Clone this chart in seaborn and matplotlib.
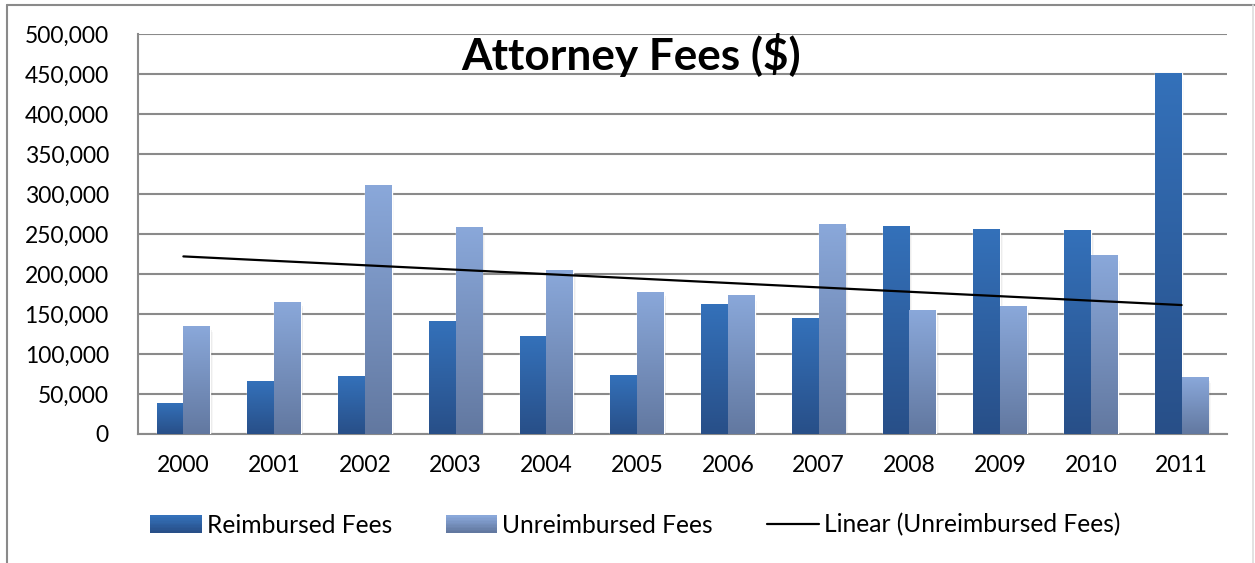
import numpy as np
import pandas as pd
import seaborn as sns
import matplotlib
matplotlib.use("Agg")
from matplotlib import pyplot as plt
from matplotlib.colors import LinearSegmentedColormap
from matplotlib.lines import Line2D
from matplotlib.patches import Rectangle
from matplotlib.legend_handler import HandlerBase
from matplotlib.ticker import FuncFormatter, MultipleLocator

years = ['2000', '2001', '2002', '2003', '2004', '2005',
         '2006', '2007', '2008', '2009', '2010', '2011']
reimbursed = [39000, 66000, 72500, 141000, 122500, 73500,
              162500, 145000, 260000, 256500, 255000, 451000]
unreimbursed = [135000, 165000, 311000, 259000, 205000, 177500,
                174000, 262500, 155000, 160000, 224000, 71000]
series_names = ['Reimbursed Fees', 'Unreimbursed Fees']

# gradient colours (bottom, top) for each series
grad_cols = {'Reimbursed Fees': ('#284f88', '#3471ba'),
             'Unreimbursed Fees': ('#6278a0', '#8aa8da')}

df = pd.DataFrame({
    'year': years * 2,
    'fees': reimbursed + unreimbursed,
    'series': [series_names[0]] * len(years) + [series_names[1]] * len(years),
})

sns.set_style('white')
plt.rcParams['font.family'] = ['Lato', 'DejaVu Sans']
plt.rcParams['text.color'] = 'black'
plt.rcParams['xtick.labelcolor'] = 'black'
plt.rcParams['ytick.labelcolor'] = 'black'

fig = plt.figure(figsize=(12.55, 5.63), dpi=100)
ax = fig.add_axes([138 / 1255, 1 - 434 / 563, (1227 - 138) / 1255, 400 / 563])

sns.barplot(data=df, x='year', y='fees', hue='series', ax=ax,
            palette=[grad_cols[s][1] for s in series_names],
            width=0.587, saturation=1, legend=False, zorder=3)

# paint each bar with a vertical gradient
for cont, name in zip(ax.containers, series_names):
    cmap = LinearSegmentedColormap.from_list(name, list(grad_cols[name]))
    for bar in cont:
        x0, w, h = bar.get_x(), bar.get_width(), bar.get_height()
        # soft shadow
        for k, a in enumerate([0.10, 0.06, 0.03]):
            sh = Rectangle((x0 + 0.01 * (k + 1), 0), w, h - 2500 * (k + 1),
                           facecolor='black', alpha=a, lw=0, zorder=2)
            ax.add_patch(sh)
        im = ax.imshow(np.linspace(0, 1, 256).reshape(-1, 1), cmap=cmap,
                       extent=[x0, x0 + w, 0, h], origin='lower',
                       aspect='auto', zorder=3.5)
        im.set_clip_path(bar)

# linear trend of the unreimbursed fees
xs = np.arange(len(years))
slope, icpt = np.polyfit(xs, unreimbursed, 1)
ax.plot(xs, slope * xs + icpt, color='black', lw=1.6, zorder=5)

ax.set_xlim(-0.5, len(years) - 0.5)
ax.set_ylim(0, 500000)
ax.yaxis.set_major_locator(MultipleLocator(50000))
ax.yaxis.set_major_formatter(FuncFormatter(lambda v, p: f'{v:,.0f}'))
ax.grid(axis='y', color='#8a8a8a', lw=1.5, zorder=0)
ax.set_axisbelow(True)
ax.set_xlabel('')
ax.set_ylabel('')

gray = '#8a8a8a'
for s in ['top', 'right']:
    ax.spines[s].set_visible(False)
for s in ['left', 'bottom']:
    ax.spines[s].set_color(gray)
    ax.spines[s].set_linewidth(1.5)

ax.set_xticks(np.arange(-0.5, len(years), 1.0), minor=True)
ax.tick_params(axis='x', which='major', length=0, pad=15, labelsize=16.5)
ax.tick_params(axis='x', which='minor', length=8, width=1.5, color=gray)
ax.tick_params(axis='y', length=8, width=1.5, color=gray, pad=13, labelsize=16.5)

fig.text(631 / 1255, 1 - 70 / 563, 'Attorney Fees ($)', ha='center',
         va='baseline', fontsize=31.8, fontweight='bold')


class GradHandler(HandlerBase):
    def __init__(self, bottom, top):
        super().__init__()
        self.cmap = LinearSegmentedColormap.from_list('h', [bottom, top])

    def create_artists(self, legend, orig, xd, yd, w, h, fs, trans):
        n = 12
        arts = []
        for i in range(n):
            r = Rectangle((xd, yd + h * i / n), w, h / n + 0.2,
                          facecolor=self.cmap(i / (n - 1)), lw=0,
                          transform=trans)
            arts.append(r)
        return arts


h_re = Rectangle((0, 0), 1, 1)
h_un = Rectangle((0, 0), 1, 1)
h_ln = Line2D([], [], color='black', lw=1.6)
fig.legend([h_re, h_un, h_ln],
           ['Reimbursed Fees', 'Unreimbursed Fees', 'Linear (Unreimbursed Fees)'],
           handler_map={h_re: GradHandler(*grad_cols['Reimbursed Fees']),
                        h_un: GradHandler(*grad_cols['Unreimbursed Fees'])},
           loc='center', bbox_to_anchor=(635 / 1255, 1 - 525 / 563), ncol=3,
           frameon=False, fontsize=17.7, handlelength=2.1, handleheight=0.7,
           handletextpad=0.2, columnspacing=2.2)

# outer chart frame
fig.add_artist(Line2D([7 / 1255, 7 / 1255], [0, 1 - 5 / 563], color=gray,
                      lw=1.5, transform=fig.transFigure))
fig.add_artist(Line2D([7 / 1255, 1], [1 - 5 / 563, 1 - 5 / 563], color=gray,
                      lw=1.5, transform=fig.transFigure))
fig.add_artist(Line2D([1253 / 1255, 1253 / 1255], [0, 1 - 5 / 563],
                      color='#dddddd', lw=1.2, transform=fig.transFigure))

fig.savefig('out.png', dpi=100)
